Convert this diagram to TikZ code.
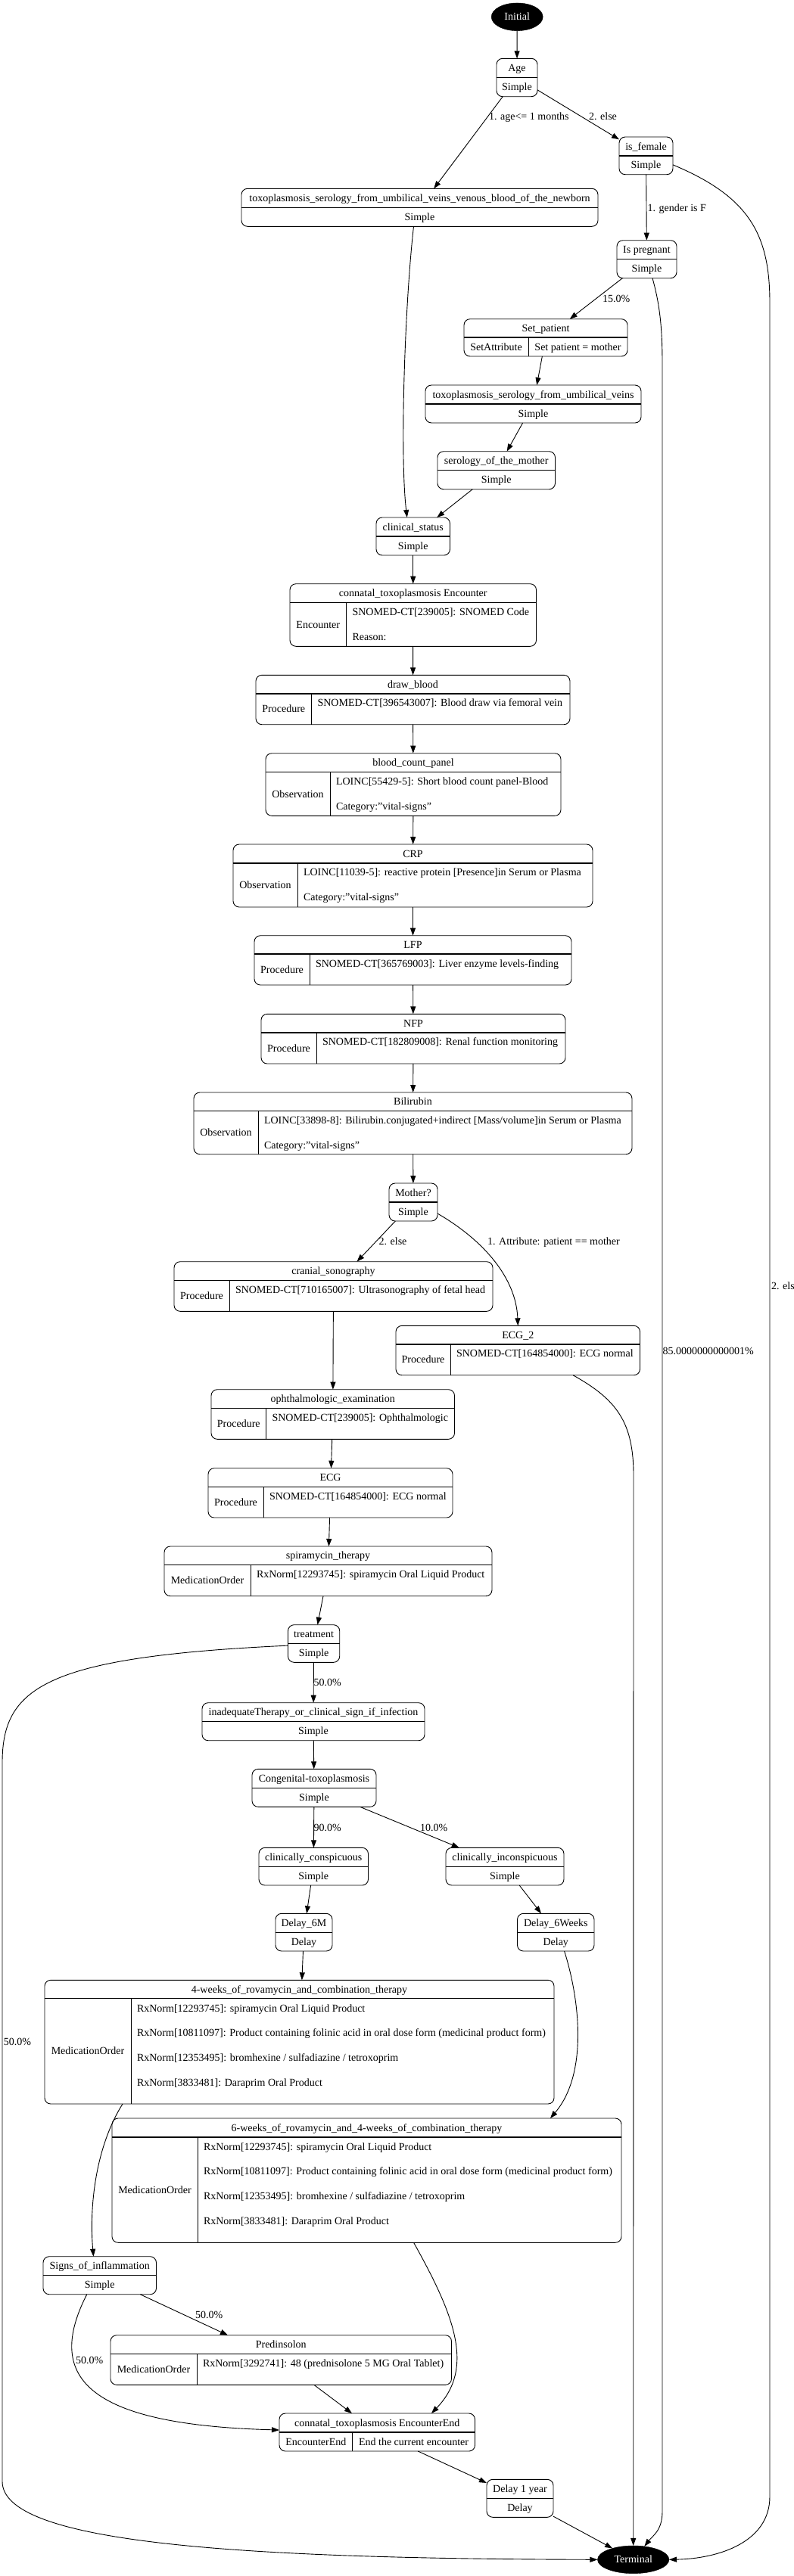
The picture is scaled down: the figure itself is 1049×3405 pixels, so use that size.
\documentclass[tikz,border=0pt]{standalone}
\usepackage{fontspec}
\setmainfont{Liberation Serif}
\usetikzlibrary{arrows.meta,shapes.geometric}
\newcounter{lc}
\tikzset{
  rbox/.style={draw, line width=0.9pt, rounded corners=8pt, inner sep=0pt, outer sep=0pt},
  divh/.style={line width=1.3pt},
  divv/.style={line width=0.9pt},
  lbl/.style={inner sep=0pt, outer sep=0pt, font=\fontsize{14}{16.8}\selectfont, text height=9pt, text depth=0pt},
  conn/.style={line width=0.9pt, -{Triangle[length=10pt,width=7pt]}},
  ovalnode/.style={ellipse, draw=black, fill=black, text=white, inner sep=0pt, outer sep=0pt, font=\fontsize{14}{16.8}\selectfont, text height=9pt, text depth=0pt}
}
\newcommand\mytxt[3]{\stepcounter{lc}\node[lbl] (l\arabic{lc}) at ({#1},{#2}) {#3};}
\newcommand\mytxtl[3]{\stepcounter{lc}\node[lbl,anchor=west] (l\arabic{lc}) at ({#1},{#2}) {#3};}
\newcommand\mybox[5]{\node[rbox, minimum width={#4-#2}, minimum height={#5-#3}] (#1) at ({(#2+#4)/2},{(#3+#5)/2}) {};}
\newcommand\simplenode[7]{%
  \mybox{#1}{#2}{#3}{#4}{#5}%
  \draw[divh] (#2,#3+25) -- (#4,#3+25);%
  \mytxt{(#2+#4)/2}{#3+12.5}{#6}%
  \mytxt{(#2+#4)/2}{(#3+25+#5)/2}{#7}}
\newcommand\recnode[9]{%
  \mybox{#1}{#2}{#3}{#4}{#5}%
  \draw[divh] (#2,#6) -- (#4,#6);%
  \draw[divv] (#7,#6) -- (#7,#5);%
  \mytxt{(#2+#4)/2}{(#3+#6)/2}{#8}%
  \mytxt{(#2+#7)/2}{(#6+#5)/2}{#9}}
\begin{document}
\begin{tikzpicture}[x=1pt,y=-1pt]
\useasboundingbox (0,0) rectangle (1049,3405);
% terminals
\node[ovalnode, minimum width=68, minimum height=36.7] (init) at (683.2,22.3) {Initial};
\node[ovalnode, minimum width=94.5, minimum height=36.7] (termnode) at (836.7,3383.3) {Terminal};
% simple nodes
\simplenode{age}{656}{77.3}{710}{127.7}{Age}{Simple}
\simplenode{isf}{818}{181}{889}{230.7}{is\_female}{Simple}
\simplenode{toxnb}{319}{249.3}{790}{299.3}{toxoplasmosis\_serology\_from\_umbilical\_veins\_venous\_blood\_of\_the\_newborn}{Simple}
\simplenode{ispreg}{815}{317.7}{894}{367.7}{Is pregnant}{Simple}
\simplenode{toxumb}{562}{509}{847}{559}{toxoplasmosis\_serology\_from\_umbilical\_veins}{Simple}
\simplenode{serol}{578}{596.7}{733.5}{646.7}{serology\_of\_the\_mother}{Simple}
\simplenode{clin}{497}{684}{594.5}{734}{clinical\_status}{Simple}
\simplenode{mother}{514}{1564}{578}{1614}{Mother?}{Simple}
\simplenode{treat}{380.5}{2147.7}{448.7}{2197.3}{treatment}{Simple}
\simplenode{inadeq}{267}{2250.7}{561}{2300.7}{inadequateTherapy\_or\_clinical\_sign\_if\_infection}{Simple}
\simplenode{congen}{333}{2338.3}{497}{2388.3}{Congenital-toxoplasmosis}{Simple}
\simplenode{consp}{342}{2442.3}{486.5}{2492}{clinically\_conspicuous}{Simple}
\simplenode{incons}{589}{2442.3}{745}{2492}{clinically\_inconspicuous}{Simple}
\simplenode{dsixm}{364}{2529.3}{439}{2579}{Delay\_6M}{Delay}
\simplenode{dsixw}{683.5}{2529.3}{785}{2579}{Delay\_6Weeks}{Delay}
\simplenode{signs}{57}{2982.7}{206.5}{3032.7}{Signs\_of\_inflammation}{Simple}
\simplenode{dyear}{643}{3277.3}{731}{3327.3}{Delay 1 year}{Delay}
% record nodes
\recnode{setp}{613}{421.7}{829}{471}{446}{698}{Set\_patient}{SetAttribute}
\mytxt{(698+829)/2}{458.5}{Set patient = mother}
\recnode{enc}{383}{771.7}{708.5}{854.3}{796.7}{457.5}{connatal\_toxoplasmosis Encounter}{Encounter}
\mytxtl{465.5}{809}{SNOMED-CT[239005]: SNOMED Code}
\mytxtl{465.5}{841.7}{Reason:}
\recnode{drawb}{338}{892.3}{753}{957.7}{917}{411.6}{draw\_blood}{Procedure}
\mytxtl{419.6}{929.3}{SNOMED-CT[396543007]: Blood draw via femoral vein}
\recnode{bcp}{351}{995.7}{741}{1078.3}{1020.7}{436}{blood\_count\_panel}{Observation}
\mytxtl{444}{1033.2}{LOINC[55429-5]: Short blood count panel-Blood}
\mytxtl{444}{1065.8}{Category:"vital-signs"}
\recnode{crp}{308}{1116}{783}{1199}{1141}{393}{CRP}{Observation}
\mytxtl{401}{1153.4}{LOINC[11039-5]: reactive protein [Presence]in Serum or Plasma}
\mytxtl{401}{1186}{Category:"vital-signs"}
\recnode{lfp}{336}{1236.7}{755}{1302}{1261}{409}{LFP}{Procedure}
\mytxtl{417}{1273.5}{SNOMED-CT[365769003]: Liver enzyme levels-finding}
\recnode{nfp}{345}{1340.3}{747}{1406}{1365}{418}{NFP}{Procedure}
\mytxtl{426}{1377.4}{SNOMED-CT[182809008]: Renal function monitoring}
\recnode{bili}{256}{1444}{835}{1525.7}{1468.7}{341}{Bilirubin}{Observation}
\mytxtl{349}{1481}{LOINC[33898-8]: Bilirubin.conjugated+indirect [Mass/volume]in Serum or Plasma}
\mytxtl{349}{1513.7}{Category:"vital-signs"}
\recnode{cran}{230}{1667.7}{651}{1733.3}{1692.7}{303}{cranial\_sonography}{Procedure}
\mytxtl{311}{1705}{SNOMED-CT[710165007]: Ultrasonography of fetal head}
\recnode{ecgtwo}{523}{1752.3}{845.5}{1817.7}{1777}{595}{ECG\_2}{Procedure}
\mytxtl{603}{1789.3}{SNOMED-CT[164854000]: ECG normal}
\recnode{ophth}{279}{1836.7}{600.5}{1902.3}{1861.3}{351.5}{ophthalmologic\_examination}{Procedure}
\mytxtl{359.5}{1873.8}{SNOMED-CT[239005]: Ophthalmologic}
\recnode{ecg}{275}{1940.7}{598}{2006}{1965.3}{348}{ECG}{Procedure}
\mytxtl{356}{1977.7}{SNOMED-CT[164854000]: ECG normal}
\recnode{spira}{217}{2044}{650}{2109.7}{2068.7}{331}{spiramycin\_therapy}{MedicationOrder}
\mytxtl{339}{2081.2}{RxNorm[12293745]: spiramycin Oral Liquid Product}
\recnode{fourw}{59}{2617.3}{732}{2781}{2641.7}{173}{4-weeks\_of\_rovamycin\_and\_combination\_therapy}{MedicationOrder}
\mytxtl{181}{2654.5}{RxNorm[12293745]: spiramycin Oral Liquid Product}
\mytxtl{181}{2687.2}{RxNorm[10811097]: Product containing folinic acid in oral dose form (medicinal product form)}
\mytxtl{181}{2719.9}{RxNorm[12353495]: bromhexine / sulfadiazine / tetroxoprim}
\mytxtl{181}{2752.6}{RxNorm[3833481]: Daraprim Oral Product}
\recnode{sixw}{148}{2800}{821}{2964.3}{2825}{261}{6-weeks\_of\_rovamycin\_and\_4-weeks\_of\_combination\_therapy}{MedicationOrder}
\mytxtl{269}{2837.5}{RxNorm[12293745]: spiramycin Oral Liquid Product}
\mytxtl{269}{2870.2}{RxNorm[10811097]: Product containing folinic acid in oral dose form (medicinal product form)}
\mytxtl{269}{2902.9}{RxNorm[12353495]: bromhexine / sulfadiazine / tetroxoprim}
\mytxtl{269}{2935.6}{RxNorm[3833481]: Daraprim Oral Product}
\recnode{pred}{146}{3086.7}{596.5}{3152.3}{3111.3}{260}{Predinsolon}{MedicationOrder}
\mytxtl{268}{3124}{RxNorm[3292741]: 48 (prednisolone 5 MG Oral Tablet)}
\recnode{encend}{369}{3190}{627.5}{3240}{3215}{465.6}{connatal\_toxoplasmosis EncounterEnd}{EncounterEnd}
\mytxt{(465.6+627.5)/2}{3227.5}{End the current encounter}
% straight connectors
\draw[conn] (init) -- (age);
\draw[conn] (age) -- (toxnb);
\draw[conn] (age) -- (isf);
\draw[conn] (isf) -- (ispreg);
\draw[conn] (ispreg) -- (setp);
\draw[conn] (setp) -- (toxumb);
\draw[conn] (toxumb) -- (serol);
\draw[conn] (serol) -- (clin);
\draw[conn] (clin) -- (enc);
\draw[conn] (enc) -- (drawb);
\draw[conn] (drawb) -- (bcp);
\draw[conn] (bcp) -- (crp);
\draw[conn] (crp) -- (lfp);
\draw[conn] (lfp) -- (nfp);
\draw[conn] (nfp) -- (bili);
\draw[conn] (bili) -- (mother);
\draw[conn] (mother) -- (cran);
\draw[conn] (cran) -- (ophth);
\draw[conn] (ophth) -- (ecg);
\draw[conn] (ecg) -- (spira);
\draw[conn] (spira) -- (treat);
\draw[conn] (treat) -- (inadeq);
\draw[conn] (inadeq) -- (congen);
\draw[conn] (congen) -- (consp);
\draw[conn] (congen) -- (incons);
\draw[conn] (consp) -- (dsixm);
\draw[conn] (incons) -- (dsixw);
\draw[conn] (dsixm) -- (fourw);
\draw[conn] (signs) -- (pred);
\draw[conn] (pred) -- (encend);
\draw[conn] (encend) -- (dyear);
\draw[conn] (dyear) -- (termnode);
% curved connectors
\draw[conn] ([xshift=-8pt]toxnb.south) .. controls (535,400) and (528,600) .. ([xshift=-8pt]clin.north);
\draw[conn] ([yshift=-12pt]isf.east) .. controls (990,260) and (1017,310) .. (1017,400) -- (1017,3300) .. controls (1017,3360) and (950,3382) .. (termnode.east);
\draw[conn] ([xshift=7.5pt]ispreg.south) .. controls (871,400) and (875,430) .. (875,480) -- (875,3320) .. controls (875,3345) and (862,3352) .. (termnode.50);
\draw[conn] ([yshift=-15pt]mother.east) .. controls (640,1640) and (682,1690) .. (ecgtwo.north);
\draw[conn] ([xshift=72.75pt]ecgtwo.south) .. controls (815,1850) and (837,1880) .. (837,1950) -- (termnode.north);
\draw[conn] ([yshift=-2.6pt]treat.west) .. controls (60,2190) and (3,2230) .. (3,2330) -- (3,3280) .. controls (3,3360) and (300,3382) .. (termnode.west);
\draw[conn] ([xshift=-233.5pt]fourw.south) .. controls (125,2840) and (118,2920) .. ([xshift=-8.25pt]signs.north);
\draw[conn] ([xshift=11.35pt]dsixw.south) .. controls (765,2640) and (778,2740) .. ([xshift=242.5pt]sixw.north);
\draw[conn] ([xshift=62.1pt]sixw.south) .. controls (600,3060) and (628,3130) .. ([xshift=71.75pt]encend.north);
\draw[conn] ([xshift=-17pt]signs.south) .. controls (60,3140) and (110,3205) .. ([yshift=3pt]encend.west);
% edge labels
\mytxtl{646}{154}{1. age<= 1 months}
\mytxtl{778}{154}{2. else}
\mytxtl{855.5}{275}{1. gender is F}
\mytxtl{796}{395}{15.0\%}
\mytxtl{875.5}{1786}{85.0000000000001\%}
\mytxtl{1019}{1700}{2. else}
\mytxtl{500.5}{1640.5}{2. else}
\mytxtl{644}{1640.5}{1. Attribute: patient == mother}
\mytxtl{414.5}{2224}{50.0\%}
\mytxtl{5}{2699}{50.0\%}
\mytxtl{414.5}{2415.5}{90.0\%}
\mytxtl{555}{2415.5}{10.0\%}
\mytxtl{258}{3060}{50.0\%}
\mytxtl{100}{3120}{50.0\%}
\end{tikzpicture}
\end{document}
